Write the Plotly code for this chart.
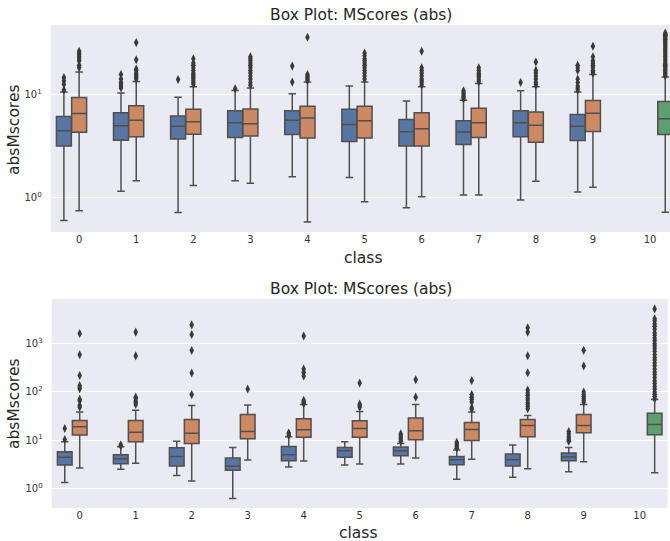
import plotly.graph_objects as go

# ---- data: class ids and hue offsets ----
classes = list(range(11))
hue_offset = {"a": -0.267, "b": 0.0, "c": 0.267}

# ---- upper panel: MScores (abs) ----
top_a_low = [0.605, 1.16, 0.723, 1.47, 1.60, 1.58, 0.807, 1.07, 0.957, 1.14]
top_a_q1 = [3.18, 3.61, 3.71, 3.83, 4.09, 3.51, 3.18, 3.28, 3.89, 3.58]
top_a_med = [4.44, 4.97, 4.93, 5.30, 5.62, 5.11, 4.34, 4.32, 5.30, 4.93]
top_a_q3 = [6.10, 6.62, 6.19, 6.92, 6.92, 7.17, 5.70, 5.55, 6.92, 6.37]
top_a_high = [10.5, 10.3, 9.36, 10.9, 10.1, 12.0, 8.63, 8.75, 10.8, 10.5]
top_a_out = [[11.0, 12.5, 13.5, 14.5], [11.5, 12, 12.5, 13, 14, 15.5], [13.9], [11.3],
             [13.1, 18.7], [], [], [9.0, 9.3, 9.6, 10, 10.4, 10.8], [13.0],
             [11, 11.5, 12, 13, 14, 17, 18, 19]]

top_b_low = [0.755, 1.47, 1.32, 1.39, 0.588, 0.922, 1.03, 1.07, 1.45, 1.27]
top_b_q1 = [4.31, 3.89, 4.12, 3.97, 3.78, 3.78, 3.18, 3.83, 3.45, 4.37]
top_b_med = [6.52, 5.62, 5.42, 5.19, 5.92, 5.55, 4.64, 5.30, 5.03, 6.56]
top_b_q3 = [9.29, 7.73, 7.17, 7.23, 7.67, 7.67, 6.62, 7.33, 6.76, 8.69]
top_b_high = [16.4, 13.3, 11.8, 11.5, 13.1, 13.1, 11.8, 12.7, 11.8, 15.5]
top_b_out = [[18, 19, 21, 22, 23, 24, 25, 26],
             [14, 14.5, 15, 15.5, 16, 17, 17.5, 21.5, 31.5],
             [12.5, 13, 13.5, 14, 14.5, 15, 15.5, 16, 17, 18, 19, 20, 22],
             [12.2, 13, 14, 15, 16, 17, 18, 19, 20, 21, 22, 23],
             [13.6, 14, 14.5, 15, 15.5, 35.5],
             [14, 15, 16, 17, 18, 19, 20, 21, 22, 23.5, 25],
             [12.3, 13, 13.5, 14, 15, 16, 17, 18, 26],
             [13.2, 13.8, 14.5, 15, 15.5, 16, 17, 18],
             [12.3, 13, 14, 15, 16, 17, 20.5],
             [16, 16.5, 17, 18, 19, 20, 21, 23, 29]]

top_c_stats = [0.728, 4.09, 5.80, 8.5, 14.7]
top_c_out = [15, 15.5, 16, 16.5, 17, 17.5, 18, 18.5, 19, 19.5, 20, 21, 22, 23, 24,
             25, 26, 27, 28, 29, 30, 31, 32, 33, 34, 35, 36, 37, 38, 39]

# ---- lower panel ----
bot_a_low = [1.31, 2.47, 1.83, 0.611, 2.76, 3.04, 3.18, 1.53, 1.69, 2.21]
bot_a_q1 = [3.04, 3.24, 2.90, 2.36, 3.74, 4.38, 4.74, 3.09, 2.90, 3.74]
bot_a_med = [4.38, 4.11, 4.59, 2.85, 4.98, 6.01, 6.01, 3.92, 3.92, 4.45]
bot_a_q3 = [5.74, 4.98, 6.93, 4.25, 7.39, 7.05, 7.16, 4.59, 5.13, 5.38]
bot_a_high = [9.24, 7.28, 9.5, 7.05, 11.7, 9.24, 8.54, 6.21, 7.88, 7.05]
bot_a_out = [[10.3, 17.4], [7.6, 8.0], [], [], [12.5, 13.5, 14], [],
             [9.5, 10.5, 11.5, 12.5, 13.5], [6.8, 7.3, 7.8, 8.4, 9.0], [],
             [9.5, 10.2, 11, 12, 13.5, 15]]

bot_b_low = [2.64, 3.29, 1.42, 3.86, 3.68, 3.18, 4.25, 3.98, 2.55, 3.56]
bot_b_q1 = [12.7, 9.24, 8.5, 10.7, 11.4, 11.4, 10.2, 9.84, 11.7, 14.2]
bot_b_med = [18.9, 14.6, 13.9, 15.1, 16.4, 17.4, 15.6, 16.6, 20.1, 20.1]
bot_b_q3 = [25.5, 25.5, 26.8, 34.0, 27.6, 25.1, 28.9, 23.2, 26.8, 34.0]
bot_b_high = [38.5, 41.8, 52, 53.8, 54.7, 39.2, 54.7, 38.5, 32.4, 54.7]
bot_b_out = [[48, 52, 66, 70, 117, 125, 135, 220, 590, 1640],
             [55, 60, 65, 72, 78, 560, 1750],
             [88, 247, 728, 1560, 2470],
             [115],
             [57, 60, 63, 67, 215, 255, 300, 1450],
             [48, 52, 56, 153],
             [78, 180],
             [44, 47, 62, 70, 78, 88, 172],
             [45, 50, 55, 60, 68, 75, 85, 95, 110, 250, 565, 1750, 2150],
             [62, 67, 73, 80, 88, 100, 345, 730]]

bot_c_stats = [2.11, 12.9, 21.1, 36.2, 69.3]
bot_c_out = [72, 80, 90, 100, 115, 130, 150, 170, 200, 230, 260, 300, 350, 400, 460,
             520, 600, 700, 800, 900, 1000, 1150, 1300, 1500, 1700, 2000, 2300, 2600,
             3000, 3300, 5300]

# ---- styling ----
FILL = {"a": "#5875a4", "b": "#cc8963", "c": "#5f9e6e"}
LINE = "#4f4f4f"
BG = "#eaeaf2"
FONT = "DejaVu Sans"
BOX_W = 0.262

fig = go.Figure()


def add_box(xa, ya, hue, cls, low, q1, med, q3, high, out):
    pos = cls + hue_offset[hue]
    fig.add_trace(go.Box(
        x=[pos], lowerfence=[low], q1=[q1], median=[med], q3=[q3], upperfence=[high],
        width=BOX_W, whiskerwidth=0.5, fillcolor=FILL[hue],
        line=dict(color=LINE, width=1.5), boxpoints=False,
        xaxis=xa, yaxis=ya, showlegend=False, hoverinfo="skip"))
    if out:
        fig.add_trace(go.Scatter(
            x=[pos] * len(out), y=out, mode="markers",
            marker=dict(symbol="diamond-tall", size=6.5, color="#3a3a3a",
                        line=dict(width=0)),
            xaxis=xa, yaxis=ya, showlegend=False, hoverinfo="skip"))


for i in range(10):
    add_box("x", "y", "a", classes[i], top_a_low[i], top_a_q1[i], top_a_med[i],
            top_a_q3[i], top_a_high[i], top_a_out[i])
    add_box("x", "y", "b", classes[i], top_b_low[i], top_b_q1[i], top_b_med[i],
            top_b_q3[i], top_b_high[i], top_b_out[i])
    add_box("x2", "y2", "a", classes[i], bot_a_low[i], bot_a_q1[i], bot_a_med[i],
            bot_a_q3[i], bot_a_high[i], bot_a_out[i])
    add_box("x2", "y2", "b", classes[i], bot_b_low[i], bot_b_q1[i], bot_b_med[i],
            bot_b_q3[i], bot_b_high[i], bot_b_out[i])

add_box("x", "y", "c", classes[10], *top_c_stats, top_c_out)
add_box("x2", "y2", "c", classes[10], *bot_c_stats, bot_c_out)

W, H = 670, 541


def px_x(v):
    return v / W


def px_y(v):
    return 1 - v / H


xaxis_common = dict(
    tickmode="array", tickvals=classes, ticktext=[str(c) for c in classes],
    showgrid=False, zeroline=False, showline=False, ticks="",
    tickfont=dict(family=FONT, size=10, color="#333333"), fixedrange=True,
)
yaxis_common = dict(
    type="log", showgrid=True, gridcolor="white", gridwidth=1.2, zeroline=False,
    showline=False, ticks="outside", ticklen=6, tickcolor="rgba(0,0,0,0)",
    tickfont=dict(family=FONT, size=10, color="#333333"),
)

fig.update_layout(
    width=W, height=H, margin=dict(l=0, r=0, t=0, b=0),
    paper_bgcolor="white", plot_bgcolor=BG, showlegend=False,
    xaxis=dict(domain=[px_x(50.6), 1.0], range=[-0.5, 10.35], anchor="y",
               **xaxis_common),
    yaxis=dict(domain=[px_y(232), px_y(25)], range=[-0.328, 1.668], anchor="x",
               tickvals=[1, 10], ticktext=["10<sup>0</sup>", "10<sup>1</sup>"],
               **yaxis_common),
    xaxis2=dict(domain=[px_x(51.7), px_x(667.7)], range=[-0.5, 10.5], anchor="y2",
                **xaxis_common),
    yaxis2=dict(domain=[px_y(508), px_y(299)], range=[-0.41, 3.93], anchor="x2",
                tickvals=[1, 10, 100, 1000],
                ticktext=["10<sup>0</sup>", "10<sup>1</sup>", "10<sup>2</sup>",
                          "10<sup>3</sup>"],
                **yaxis_common),
)

title_font = dict(family=FONT, size=15.5, color="#262626")
label_font = dict(family=FONT, size=15.5, color="#262626")
annotations = [
    dict(text="Box Plot: MScores (abs)", x=px_x(361), y=px_y(15), font=title_font),
    dict(text="Box Plot: MScores (abs)", x=px_x(361), y=px_y(289), font=title_font),
    dict(text="class", x=px_x(363), y=px_y(258), font=label_font),
    dict(text="class", x=px_x(358), y=px_y(533), font=label_font),
    dict(text="absMscores", x=px_x(14), y=px_y(130), font=label_font, textangle=-90),
    dict(text="absMscores", x=px_x(14), y=px_y(404), font=label_font, textangle=-90),
]
for a in annotations:
    fig.add_annotation(xref="paper", yref="paper", showarrow=False,
                       xanchor="center", yanchor="middle", **a)

fig.write_html("out.html")
